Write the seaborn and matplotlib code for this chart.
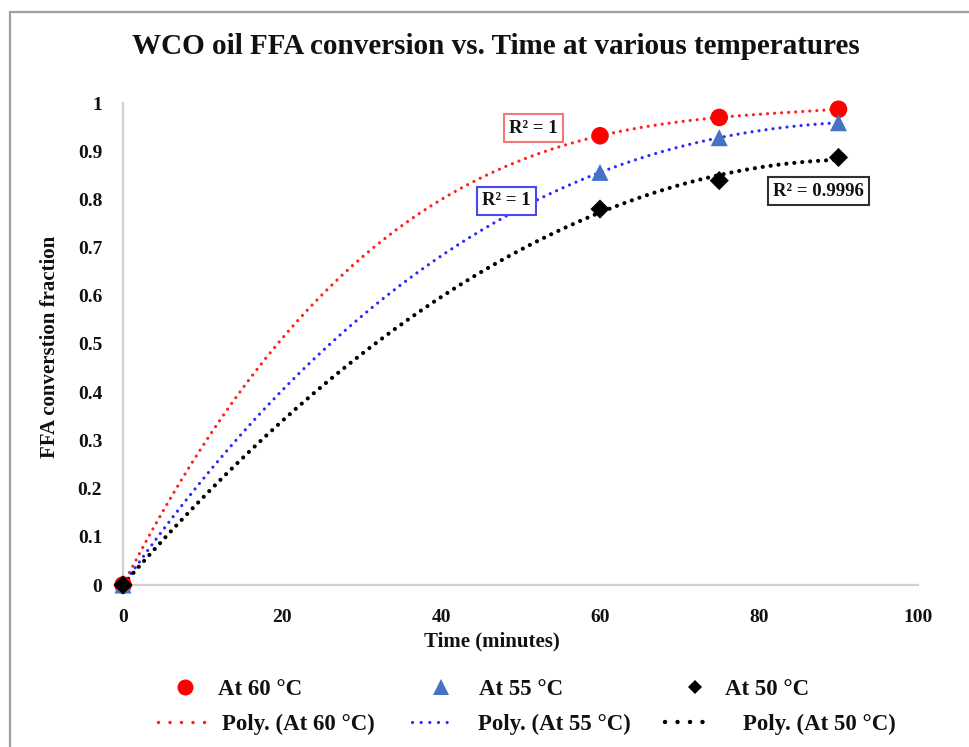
import numpy as np
import pandas as pd
import matplotlib
matplotlib.use("Agg")
import matplotlib.pyplot as plt
from matplotlib.lines import Line2D
from matplotlib.patches import Rectangle
import seaborn as sns

# Reaction time (minutes) and FFA conversion fraction at each temperature
time_min = [0, 60, 75, 90]
conv_60 = [0.0, 0.932, 0.970, 0.987]
conv_55 = [0.0, 0.856, 0.928, 0.959]
conv_50 = [0.0, 0.780, 0.839, 0.887]

series_names = ["At 60 \u00b0C", "At 55 \u00b0C", "At 50 \u00b0C"]
trend_names = ["Poly. (At 60 \u00b0C)", "Poly. (At 55 \u00b0C)", "Poly. (At 50 \u00b0C)"]
poly_order = [3, 3, 2]
r2_labels = ["R\u00b2 = 1", "R\u00b2 = 1", "R\u00b2 = 0.9996"]

x_ticks = [0, 20, 40, 60, 80, 100]
y_ticks = [0, 0.1, 0.2, 0.3, 0.4, 0.5, 0.6, 0.7, 0.8, 0.9, 1]
y_tick_labels = ["0", "0.1", "0.2", "0.3", "0.4", "0.5", "0.6", "0.7", "0.8", "0.9", "1"]

sns.set_theme(style="white")
plt.rcParams["font.family"] = ["Liberation Serif", "DejaVu Serif"]
plt.rcParams["font.weight"] = "bold"

fig = plt.figure(figsize=(9.69, 7.47), dpi=100)
ax = fig.add_axes([123 / 969, 1 - 585 / 747, 795 / 969, 482 / 747])

marker_colors = ["#FF0000", "#4472C4", "#000000"]
trend_colors = ["#FF2020", "#2A2AFF", "#000000"]
markers = ["o", "^", "D"]
marker_sizes = [160, 150, 95]
trend_lw = [2.3, 2.3, 3.0]
trend_gap = [2.2, 2.2, 1.9]

all_series = [conv_60, conv_55, conv_50]
grid = np.linspace(0, 90, 300)

for vals, order, col, lw, gap in zip(all_series, poly_order, trend_colors, trend_lw, trend_gap):
    coeffs = np.polyfit(time_min, vals, order)
    fit = np.polyval(coeffs, grid)
    sns.lineplot(x=grid, y=fit, ax=ax, color=col, linewidth=lw,
                 linestyle=(0, (0.01, gap)), dash_capstyle="round", zorder=2)

for vals, col, mk, s in zip(all_series, marker_colors, markers, marker_sizes):
    df = pd.DataFrame({"t": time_min, "c": vals})
    sns.scatterplot(data=df, x="t", y="c", ax=ax, color=col, marker=mk, s=s,
                    edgecolor="none", linewidth=0, zorder=3, clip_on=False)

# R-squared boxes
r2_pos = [(51.6, 0.948), (48.2, 0.797), (87.5, 0.817)]
r2_edges = ["#F07878", "#4848F0", "#303030"]
for lab, (xp, yp), ec in zip(r2_labels, r2_pos, r2_edges):
    ax.text(xp, yp, lab, ha="center", va="center", fontsize=13.5, fontweight="bold",
            color="#111111",
            bbox=dict(boxstyle="square,pad=0.28", facecolor="white", edgecolor=ec, linewidth=1.5),
            zorder=4)

ax.set_xlim(0, 100)
ax.set_ylim(0, 1)
ax.set_xticks(x_ticks)
ax.set_xticklabels([str(v) for v in x_ticks])
ax.set_yticks(y_ticks)
ax.set_yticklabels(y_tick_labels)
ax.tick_params(axis="both", length=0, labelsize=14, colors="#111111")
ax.tick_params(axis="y", pad=15)
ax.tick_params(axis="x", pad=17)
for lab in ax.get_xticklabels() + ax.get_yticklabels():
    lab.set_fontweight("bold")

for side in ["top", "right"]:
    ax.spines[side].set_visible(False)
for side in ["left", "bottom"]:
    ax.spines[side].set_color("#D0D0D0")
    ax.spines[side].set_linewidth(1.6)
ax.grid(False)

ax.set_xlabel("Time (minutes)", fontsize=15, fontweight="bold", color="#111111")
ax.xaxis.label.set_va("center")
ax.xaxis.set_label_coords((492 - 123) / 795, (585 - 641) / 482)
ax.set_ylabel("FFA converstion fraction", fontsize=15, fontweight="bold", color="#111111")
ax.yaxis.label.set_va("center")
ax.yaxis.set_label_coords((50 - 123) / 795, (585 - 347) / 482)

fig.text(0.512, 1 - 47 / 747, "WCO oil FFA conversion vs. Time at various temperatures",
         ha="center", va="center", fontsize=21, fontweight="bold", color="#111111")

# Legend entries laid out in two rows
fs = 16.5
legend_specs = [
    (Line2D([], [], linestyle="none", marker="o", markersize=11.5, color=marker_colors[0], markeredgewidth=0),
     series_names[0], 175.8, 689, 0.8, 1.04),
    (Line2D([], [], linestyle="none", marker="^", markersize=11, color=marker_colors[1], markeredgewidth=0),
     series_names[1], 431.8, 689, 0.8, 1.26),
    (Line2D([], [], linestyle="none", marker="D", markersize=7.5, color=marker_colors[2], markeredgewidth=0),
     series_names[2], 685.8, 689, 0.8, 0.91),
    (Line2D([], [], color=trend_colors[0], linewidth=2.5, linestyle=(0, (0.01, 3.3)), dash_capstyle="round"),
     trend_names[0], 158, 724, 2.05, 0.74),
    (Line2D([], [], color=trend_colors[1], linewidth=2.3, linestyle=(0, (0.01, 2.7)), dash_capstyle="round"),
     trend_names[1], 412, 724, 1.83, 1.05),
    (Line2D([], [], color=trend_colors[2], linewidth=3.2, linestyle=(0, (0.01, 2.8)), dash_capstyle="round"),
     trend_names[2], 665, 724, 2.10, 1.31),
]
for handle, label, left_px, y_px, hl, pad in legend_specs:
    leg = fig.legend([handle], [label], loc="center left",
                     bbox_to_anchor=(left_px / 969, 1 - y_px / 747),
                     frameon=False, borderpad=0, borderaxespad=0,
                     handlelength=hl, handletextpad=pad,
                     prop={"weight": "bold", "size": fs})
    for t in leg.get_texts():
        t.set_color("#111111")

# Outer border of the chart area
fig.add_artist(Rectangle((10 / 969, -0.2), 1.5, 1.2 - 12 / 747, transform=fig.transFigure,
                         fill=False, edgecolor="#A0A0A0", linewidth=1.6))

fig.savefig("out.png", dpi=100)
